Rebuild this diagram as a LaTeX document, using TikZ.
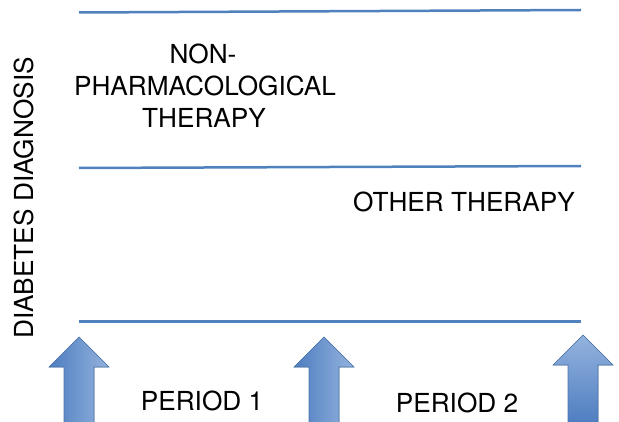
\documentclass[tikz,border=0pt]{standalone}
\usepackage{fontspec}
\setmainfont{TeX Gyre Heros}
\definecolor{lineblue}{HTML}{4F81BD}
\definecolor{arrdark}{HTML}{4E7DC0}
\definecolor{arrlight}{HTML}{94B3DE}
\definecolor{arredge}{HTML}{4A74AE}
\begin{document}
\begin{tikzpicture}[x=1pt,y=-1pt,
  lbl/.style={inner sep=0pt,anchor=base,font=\fontsize{26.2pt}{30pt}\selectfont},
  band/.style={draw=lineblue,line width=2.5pt},
  uparrow/.style={left color=arrdark,right color=arrlight},
  uparrowv/.style={top color=arrlight,bottom color=arrdark},
  arrline/.style={draw=arredge,line width=0.6pt}]
\useasboundingbox (0,0) rectangle (619,422);
% band lines
\coordinate (t1) at (79,12.5);  \coordinate (t2) at (581,10);
\coordinate (m1) at (79,168);   \coordinate (m2) at (581,166);
\coordinate (b1) at (79,321.5); \coordinate (b2) at (581,321.5);
\draw[band] (t1) -- (t2);
\draw[band] (m1) -- (m2);
\draw[band] (b1) -- (b2);
% arrows
\fill[uparrow] (79,337) -- (109,367) -- (94,367) -- (94,424) -- (64,424) -- (64,367) -- (49,367) -- cycle;
\draw[arrline] (79,337) -- (109,367) -- (94,367) -- (94,424) -- (64,424) -- (64,367) -- (49,367) -- cycle;
\fill[uparrow] (324,337) -- (354,367) -- (339,367) -- (339,424) -- (309,424) -- (309,367) -- (294,367) -- cycle;
\draw[arrline] (324,337) -- (354,367) -- (339,367) -- (339,424) -- (309,424) -- (309,367) -- (294,367) -- cycle;
\fill[uparrowv] (583,335) -- (613,365) -- (598,365) -- (598,424) -- (568,424) -- (568,365) -- (553,365) -- cycle;
\draw[arrline] (583,335) -- (613,365) -- (598,365) -- (598,424) -- (568,424) -- (568,365) -- (553,365) -- cycle;
% labels
\node[lbl,rotate=90] (diag) at (33,198) {DIABETES DIAGNOSIS};
\node[lbl] (np1) at (203,64) {NON-};
\node[lbl] (np2) at (205,96) {PHARMACOLOGICAL};
\node[lbl] (np3) at (204,128) {THERAPY};
\node[lbl] (other) at (464,211.5) {OTHER THERAPY};
\node[lbl] (p1) at (202,410) {PERIOD 1};
\node[lbl] (p2) at (457,412) {PERIOD 2};
\end{tikzpicture}
\end{document}
